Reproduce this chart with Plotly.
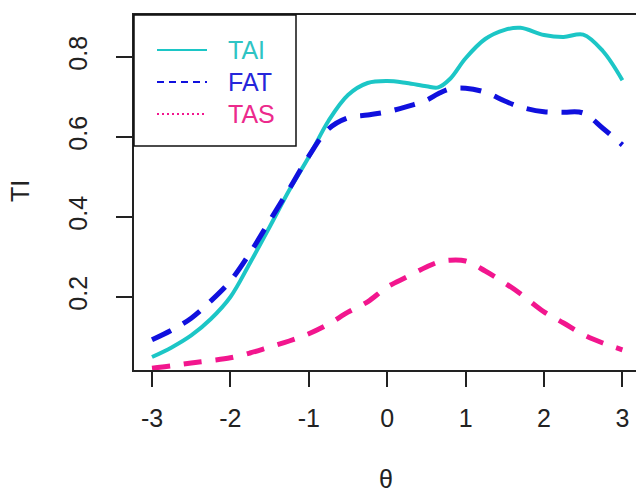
import plotly.graph_objects as go

# Test information curves over the ability scale
theta = [-3, -2.75, -2.5, -2.25, -2, -1.75, -1.5, -1.25, -1, -0.75, -0.5, -0.25,
         0, 0.25, 0.5, 0.65, 0.8, 1, 1.25, 1.5, 1.7, 2, 2.25, 2.5, 2.75, 3]

tai = [0.050, 0.074, 0.104, 0.145, 0.200, 0.285, 0.375, 0.467, 0.550, 0.640,
       0.705, 0.735, 0.740, 0.735, 0.727, 0.724, 0.745, 0.797, 0.845, 0.868,
       0.873, 0.855, 0.850, 0.856, 0.815, 0.742]

fat = [0.093, 0.117, 0.147, 0.190, 0.240, 0.310, 0.390, 0.470, 0.552, 0.620,
       0.648, 0.655, 0.663, 0.676, 0.692, 0.708, 0.720, 0.722, 0.712, 0.690,
       0.675, 0.663, 0.662, 0.660, 0.622, 0.580]

tas = [0.022, 0.028, 0.035, 0.041, 0.048, 0.060, 0.075, 0.090, 0.108, 0.132,
       0.162, 0.188, 0.225, 0.250, 0.275, 0.287, 0.292, 0.290, 0.265, 0.235,
       0.208, 0.163, 0.135, 0.106, 0.085, 0.068]

series_names = ["TAI", "FAT", "TAS"]
line_colors = ["#1CC6C6", "#1010DE", "#F2168E"]
text_colors = ["#2EC4C4", "#2626DA", "#EC2A8C"]

x_ticks = [-3, -2, -1, 0, 1, 2, 3]
x_tick_text = ["-3", "-2", "-1", "0", "1", "2", "3"]
y_ticks = [0.2, 0.4, 0.6, 0.8]
y_tick_text = ["0.2", "0.4", "0.6", "0.8"]

FONT = "Liberation Sans, Arial, sans-serif"
W, H = 636, 494
L, T, B = 134, 15, 124
plot_w = W - L
plot_h = H - T - B


def px_x(px):
    return (px - L) / plot_w


def px_y(py):
    return (H - B - py) / plot_h


fig = go.Figure()

fig.add_trace(go.Scatter(x=theta, y=tai, mode="lines", name=series_names[0],
                         line=dict(color=line_colors[0], width=4, shape="spline", smoothing=1.0)))
fig.add_trace(go.Scatter(x=theta, y=fat, mode="lines", name=series_names[1],
                         line=dict(color=line_colors[1], width=5, dash="21px,14px",
                                   shape="spline", smoothing=1.0)))
fig.add_trace(go.Scatter(x=theta, y=tas, mode="lines", name=series_names[2],
                         line=dict(color=line_colors[2], width=5, dash="18px,14px",
                                   shape="spline", smoothing=1.0)))

# Legend box drawn in the top-left corner of the panel
shapes = [dict(type="rect", xref="paper", yref="paper",
               x0=0, x1=px_x(296), y0=px_y(146), y1=1,
               line=dict(color="#111111", width=1.5), fillcolor="white", layer="above")]
legend_dash = ["solid", "7px,5px", "2px,3px"]
rows = [50, 82, 114]
annotations = []
for name, col, tcol, dsh, ry in zip(series_names, line_colors, text_colors, legend_dash, rows):
    shapes.append(dict(type="line", xref="paper", yref="paper",
                       x0=px_x(157), x1=px_x(207), y0=px_y(ry), y1=px_y(ry),
                       line=dict(color=col, width=2, dash=dsh), layer="above"))
    annotations.append(dict(xref="paper", yref="paper", x=px_x(226), y=px_y(ry),
                            text=name, showarrow=False, xanchor="left", yanchor="middle",
                            font=dict(family=FONT, size=25, color=tcol)))

# Axis titles
annotations.append(dict(xref="paper", yref="paper", x=px_x(20), y=px_y(191),
                        text="TI", showarrow=False, textangle=-90,
                        xanchor="center", yanchor="middle",
                        font=dict(family=FONT, size=25, color="#222222")))
annotations.append(dict(xref="paper", yref="paper", x=px_x(386), y=px_y(479),
                        text="θ", showarrow=False, xanchor="center", yanchor="middle",
                        font=dict(family=FONT, size=25, color="#222222")))

x0_px, unit_x = 152, 78.4
y0_px, unit_y = 377, 400
x_range = [-3 - (x0_px - L) / unit_x, -3 + (W - x0_px) / unit_x]
y_range = [(y0_px - (H - B)) / unit_y, (y0_px - T) / unit_y]

fig.update_layout(
    width=W, height=H,
    margin=dict(l=L, r=0, t=T, b=B, pad=0),
    paper_bgcolor="white", plot_bgcolor="white",
    showlegend=False,
    shapes=shapes, annotations=annotations,
    font=dict(family=FONT, size=25, color="#222222"),
    xaxis=dict(range=x_range, tickvals=x_ticks, ticktext=x_tick_text,
               ticks="outside", ticklen=15, tickwidth=1.5, tickcolor="#222222",
               showline=True, linecolor="#222222", linewidth=1.5, mirror=True,
               showgrid=False, zeroline=False, ticklabelstandoff=10,
               tickfont=dict(family=FONT, size=25, color="#222222")),
    yaxis=dict(range=y_range, tickvals=y_ticks, ticktext=y_tick_text,
               ticks="outside", ticklen=16, tickwidth=1.5, tickcolor="#222222",
               showline=True, linecolor="#222222", linewidth=1.5, mirror=False,
               showgrid=False, zeroline=False, tickangle=-90, ticklabelstandoff=19,
               tickfont=dict(family=FONT, size=25, color="#222222")),
)

fig.write_html("out.html")
